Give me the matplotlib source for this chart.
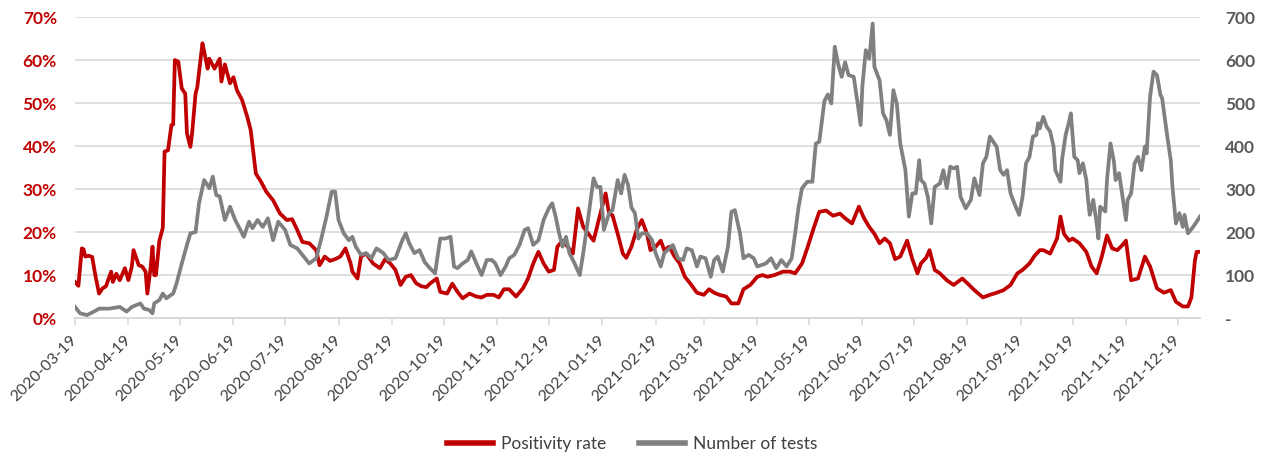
import numpy as np
import pandas as pd
import matplotlib
matplotlib.use('Agg')
import matplotlib.pyplot as plt
from matplotlib.lines import Line2D

plt.rcParams['font.family'] = ['Lato', 'DejaVu Sans']

RED = '#C00000'
GREY = '#808080'

start = pd.Timestamp('2020-03-19')

# positivity rate (%), x = days since 2020-03-19
rate_days = [0, 2, 4, 5, 6, 8, 10, 12, 14, 16, 18, 21, 22, 24, 26, 29, 31, 33, 34, 37,
             39, 41, 42, 44, 45, 46, 47, 49, 51, 52, 54, 56, 57, 58, 60, 62, 64, 65, 67, 68,
             70, 71, 74, 75, 77, 78, 81, 84, 85, 87, 90, 92, 94, 97, 100, 102, 105, 108, 111, 115,
             119, 123, 126, 129, 132, 136, 140, 142, 145, 148, 151, 154, 157, 160, 161, 164, 166, 169, 173, 177,
             180, 183, 186, 189, 192, 195, 198, 201, 204, 206, 210, 212, 216, 219, 222, 225, 229, 233, 236, 239,
             243, 246, 249, 252, 256, 260, 263, 266, 269, 272, 275, 278, 280, 283, 286, 289, 292, 295, 298, 301,
             304, 308, 310, 312, 315, 318, 320, 323, 326, 329, 332, 334, 337, 340, 342, 345, 348, 351, 354, 357,
             361, 365, 368, 371, 374, 378, 381, 385, 388, 392, 396, 399, 402, 406, 411, 415, 418, 422, 425, 429,
             432, 436, 440, 444, 447, 451, 455, 458, 461, 464, 467, 470, 473, 476, 479, 483, 486, 489, 491, 494,
             496, 499, 502, 506, 510, 515, 519, 522, 527, 531, 535, 539, 543, 547, 550, 554, 557, 560, 562, 566,
             570, 572, 574, 577, 579, 583, 587, 590, 593, 596, 599, 602, 605, 608, 610, 613, 617, 621, 624, 628,
             632, 636, 639, 643, 646, 648, 650, 651, 653]
rate_pct = [8.4, 7.5, 16.2, 16, 14.3, 14.5, 14.2, 9.6, 5.7, 6.9, 7.4, 10.8, 8.4, 10.3, 8.8, 11.6, 8.8, 12, 15.8, 12.3,
            12, 10.8, 5.7, 12, 16.6, 10, 10, 18, 21, 38.7, 39, 44.9, 45, 60, 59.6, 53.4, 52.2, 43, 39.8, 43,
            52.2, 53.7, 63.9, 62, 58, 60.3, 58, 60.3, 55, 59, 54.6, 56, 53, 50.7, 46.8, 43.7, 33.6, 31.7, 29.4, 27.4,
            24.3, 22.8, 23, 20.5, 17.7, 17.4, 15.8, 12.3, 14.3, 13.3, 13.7, 14.3, 16.2, 12.7, 10.8, 9.2, 14.3, 15, 12.7, 11.6,
            13.7, 12.7, 11.2, 7.7, 9.6, 10, 8.1, 7.4, 7.2, 8, 9.2, 6.1, 5.7, 8, 6.1, 4.6, 5.7, 5, 4.8, 5.4,
            5.4, 4.8, 6.7, 6.7, 5, 6.9, 9.2, 12.7, 15.4, 12.7, 10.8, 11.2, 16.6, 18, 16.6, 15, 25.5, 21.2, 19.6, 18,
            22.8, 29, 24.3, 23.9, 19.6, 15, 14, 16.6, 20.5, 22.8, 19.6, 15.8, 16.6, 18, 15.8, 16.6, 14.3, 12.7, 9.6, 8.1,
            5.9, 5.4, 6.7, 5.9, 5.4, 5, 3.4, 3.4, 6.7, 7.7, 9.6, 10, 9.6, 10, 10.8, 10.8, 10.4, 12.7, 16.2, 21.2,
            24.7, 25, 23.8, 24.3, 23.2, 22, 25.9, 23.2, 21.2, 19.6, 17.4, 18.5, 17.4, 13.7, 14.3, 18, 13.7, 10.4, 12.7, 14,
            15.8, 11.2, 10.4, 8.8, 7.7, 9.2, 7.7, 6.5, 4.8, 5.4, 5.9, 6.5, 7.7, 10.4, 11.2, 12.7, 14.5, 15.8, 15.8, 15,
            18.5, 23.6, 19.6, 18, 18.5, 17.4, 15.4, 12, 10.4, 14.3, 19.2, 16.2, 15.8, 17, 18, 8.8, 9.2, 14.3, 12, 6.9,
            5.9, 6.5, 3.8, 2.7, 2.7, 4.8, 13.3, 15.4, 15.4]

# number of tests, x = days since 2020-03-19
test_days = [0, 3, 7, 11, 14, 20, 26, 30, 33, 38, 40, 43, 45, 46, 49, 51, 53, 57, 59, 62,
             65, 67, 70, 72, 75, 78, 80, 82, 84, 87, 90, 93, 96, 98, 101, 103, 106, 109, 112, 115,
             118, 122, 125, 129, 132, 136, 140, 143, 146, 149, 151, 153, 156, 159, 161, 163, 166, 169, 172, 175,
             179, 182, 186, 190, 192, 194, 197, 200, 203, 206, 209, 212, 215, 218, 220, 222, 225, 228, 230, 233,
             236, 239, 242, 244, 247, 250, 252, 255, 258, 261, 263, 266, 269, 272, 275, 277, 279, 281, 283, 285,
             287, 290, 293, 295, 298, 301, 303, 305, 307, 310, 312, 315, 317, 319, 321, 323, 325, 327, 329, 332,
             335, 337, 340, 342, 345, 347, 350, 353, 355, 358, 361, 363, 366, 369, 371, 373, 376, 379, 381, 383,
             386, 388, 391, 394, 396, 399, 401, 404, 407, 410, 413, 416, 418, 420, 422, 425, 428, 430, 432, 435,
             437, 439, 441, 443, 445, 447, 449, 452, 454, 456, 457, 459, 461, 463, 464, 467, 469, 471, 473, 475,
             477, 479, 482, 484, 486, 488, 490, 491, 493, 495, 497, 499, 502, 504, 506, 508, 510, 512, 514, 517,
             520, 522, 525, 527, 529, 531, 533, 535, 537, 539, 541, 543, 546, 548, 550, 552, 554, 556, 558, 559,
             560, 562, 564, 566, 568, 569, 572, 573, 575, 577, 578, 580, 582, 583, 585, 587, 588, 589, 591, 593,
             594, 595, 598, 599, 601, 603, 604, 606, 608, 610, 611, 613, 615, 617, 619, 621, 622, 624, 626, 628,
             630, 631, 634, 636, 637, 639, 641, 643, 644, 646, 649, 653]
test_count = [26, 11, 7, 15, 22, 22, 26, 15, 26, 34, 22, 19, 11, 34, 42, 57, 46, 57, 81, 127,
              170, 197, 200, 267, 321, 302, 329, 286, 283, 228, 259, 228, 205, 189, 224, 209, 228, 212, 232, 181,
              224, 205, 170, 162, 147, 127, 139, 185, 236, 294, 294, 228, 197, 181, 189, 166, 147, 151, 139, 162,
              151, 135, 139, 181, 197, 174, 151, 158, 130, 116, 104, 185, 185, 189, 120, 116, 127, 135, 155, 127,
              100, 135, 135, 127, 100, 120, 139, 147, 170, 205, 209, 170, 181, 228, 255, 267, 236, 197, 166, 189,
              151, 127, 100, 151, 236, 325, 305, 305, 205, 244, 251, 321, 290, 333, 310, 257, 244, 185, 197, 197,
              181, 151, 120, 151, 162, 170, 139, 135, 162, 158, 120, 143, 139, 96, 135, 143, 108, 166, 247, 251,
              197, 139, 147, 139, 120, 124, 127, 139, 116, 135, 120, 139, 197, 259, 302, 317, 317, 406, 410, 505,
              520, 499, 631, 590, 561, 595, 565, 561, 507, 449, 538, 623, 603, 685, 584, 553, 476, 460, 426, 530,
              499, 406, 344, 236, 290, 290, 367, 321, 313, 282, 220, 305, 313, 344, 302, 352, 348, 352, 282, 255,
              275, 325, 286, 360, 375, 422, 410, 398, 344, 333, 344, 290, 259, 240, 282, 360, 375, 422, 426, 453,
              441, 468, 445, 434, 399, 344, 317, 371, 426, 457, 476, 375, 367, 337, 360, 321, 275, 240, 275, 220,
              185, 259, 248, 321, 406, 364, 321, 337, 282, 228, 275, 290, 360, 375, 344, 399, 383, 515, 573, 565,
              519, 511, 422, 367, 305, 220, 244, 212, 240, 197, 212, 236]

tick_dates = pd.date_range('2020-03-19', '2021-12-19', freq=pd.DateOffset(months=1))
pct_ticks = np.arange(0, 71, 10)
test_ticks = np.arange(0, 701, 100)

rate_x = start + pd.to_timedelta(rate_days, unit='D')
test_x = start + pd.to_timedelta(test_days, unit='D')

fig = plt.figure(figsize=(12.64, 4.57), dpi=100)
ax = fig.add_axes([0.0593, 0.304, 0.8901, 0.6587])
ax2 = ax.twinx()

ax.plot(rate_x, np.array(rate_pct) / 100, color=RED, lw=2.7, solid_joinstyle='round')
ax2.plot(test_x, test_count, color=GREY, lw=2.7, solid_joinstyle='round')

ax.set_xlim(start, start + pd.Timedelta(days=653))
ax.set_ylim(0, 0.7)
ax2.set_ylim(0, 700)

ax.set_yticks(pct_ticks / 100, labels=['%d%%' % v for v in pct_ticks],
              fontsize=12.5, fontweight='bold', color=RED)
ax2.set_yticks(test_ticks, labels=['-' if v == 0 else str(v) for v in test_ticks],
               fontsize=12.5, fontweight='bold', color='#595959')
ax.set_xticks(tick_dates, labels=[d.strftime('%Y-%m-%d') for d in tick_dates],
              rotation=45, ha='right', va='center', rotation_mode='anchor',
              fontsize=11.5, color='#404040')

ax.yaxis.grid(True, color='#D9D9D9', lw=1.2)
ax.set_axisbelow(True)
for a in (ax, ax2):
    for s in ('top', 'left', 'right'):
        a.spines[s].set_visible(False)
    a.spines['bottom'].set_color('#D9D9D9')
    a.spines['bottom'].set_linewidth(1.2)
ax.tick_params(axis='y', length=0, pad=13)
ax2.tick_params(axis='y', length=0, pad=18)
ax.tick_params(axis='x', length=5, width=1.2, color='#D9D9D9', pad=9)

handles = [Line2D([], [], color=RED, lw=4), Line2D([], [], color=GREY, lw=4)]
leg = fig.legend(handles, ['Positivity rate', 'Number of tests'], loc='center',
                 bbox_to_anchor=(0.5, 0.028), ncol=2, frameon=False, fontsize=12.5,
                 handlelength=2.65, columnspacing=1.9, handletextpad=0.45)
for t in leg.get_texts():
    t.set_color('#404040')

fig.savefig('out.png', dpi=100)
